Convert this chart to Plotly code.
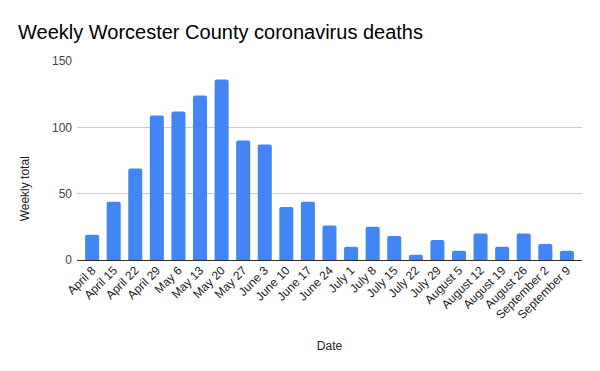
import plotly.graph_objects as go

dates = ["April 8", "April 15", "April 22", "April 29", "May 6", "May 13", "May 20",
         "May 27", "June 3", "June 10", "June 17", "June 24", "July 1", "July 8",
         "July 15", "July 22", "July 29", "August 5", "August 12", "August 19",
         "August 26", "September 2", "September 9"]
weekly_deaths = [19, 44, 69, 109, 112, 124, 136, 90, 87, 40, 44, 26, 10, 25,
                 18, 4, 15, 7, 20, 10, 20, 12, 7]
y_ticks = [0, 50, 100, 150]

fig = go.Figure(go.Bar(
    x=dates, y=weekly_deaths,
    marker=dict(color="#4285F4", cornerradius=2, line=dict(width=0)),
))

fig.update_layout(
    width=600, height=371,
    margin=dict(l=77, r=18, t=61, b=111),
    paper_bgcolor="white", plot_bgcolor="white",
    font=dict(family="Liberation Sans, Arial, sans-serif", size=12, color="#222222"),
    title=dict(text="Weekly Worcester County coronavirus deaths",
               x=0.03, xanchor="left", y=0.915, yanchor="middle",
               font=dict(size=20, color="#000000")),
    bargap=0.35,
    showlegend=False,
    annotations=[dict(text="Weekly total", textangle=-90, xref="paper", yref="paper",
                      x=-0.103, y=0.36, xanchor="center", yanchor="middle",
                      showarrow=False, font=dict(size=12, color="#222222"))],
)
fig.update_xaxes(
    range=[-0.7, 22.7], tickangle=-45, showgrid=False, ticks="",
    showline=False,
    title=dict(text="Date", standoff=20, font=dict(size=12, color="#222222")),
    tickfont=dict(size=12, color="#222222"),
)
fig.update_yaxes(
    range=[0, 150], tickvals=y_ticks, showgrid=True, gridcolor="#cccccc",
    zeroline=True, zerolinecolor="#333333", zerolinewidth=1,
    ticks="", showline=False, ticklabelstandoff=4,
    tickfont=dict(size=12, color="#444444"),
)

fig.write_html("out.html", config={"displayModeBar": False},
               post_script="document.body.style.margin='0';")
